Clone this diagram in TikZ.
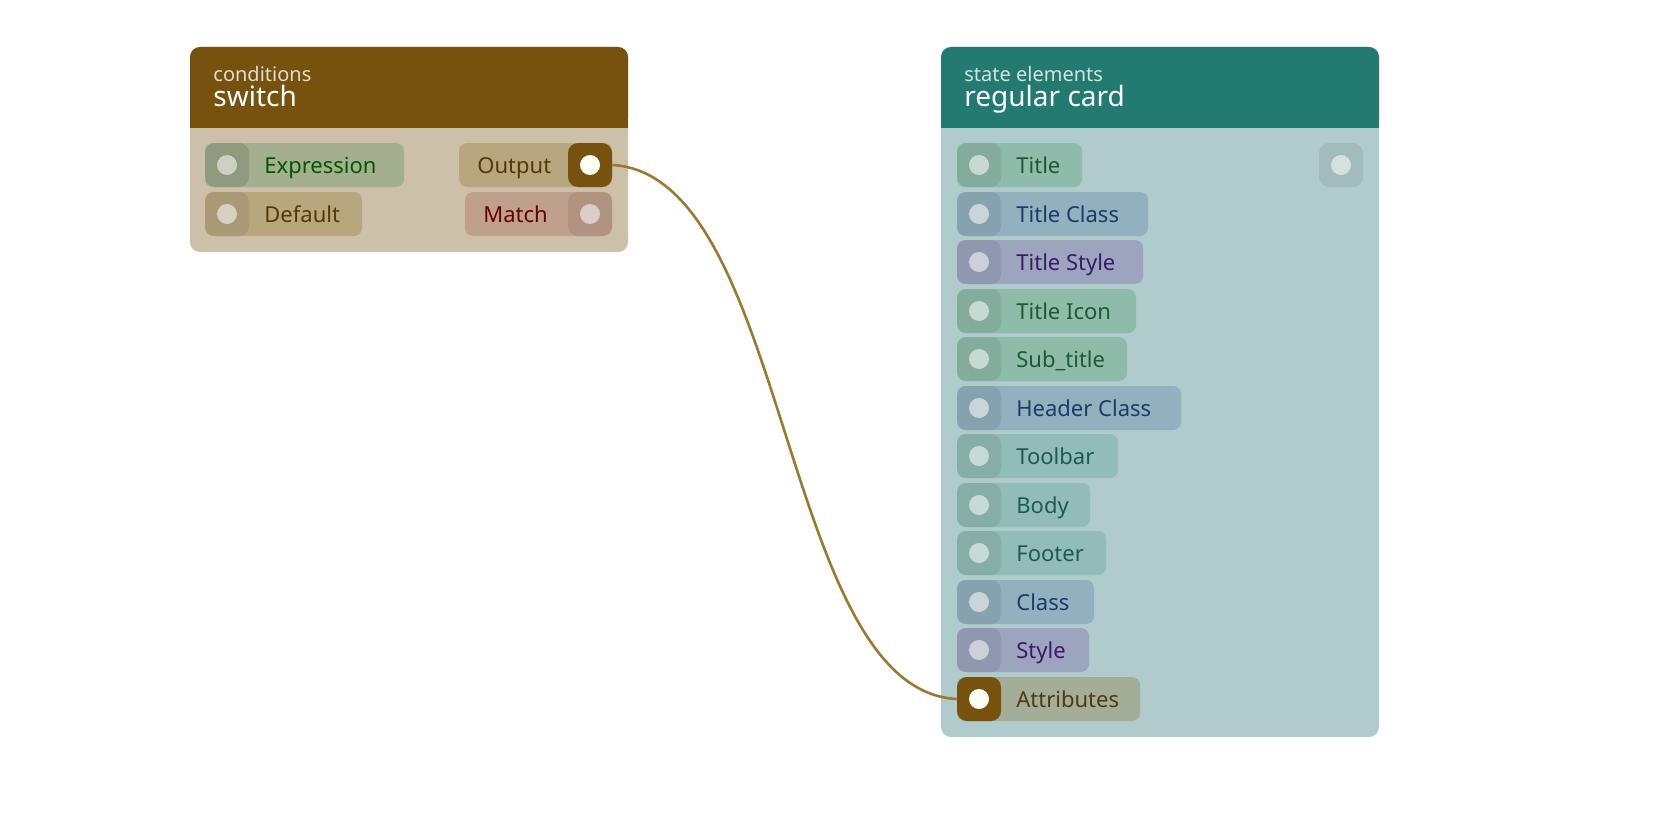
\documentclass[tikz,border=0pt]{standalone}
\usepackage{fontspec}
\setmainfont{Noto Sans}
\usetikzlibrary{positioning}
\definecolor{brownhd}{HTML}{76520E}
\definecolor{brownbd}{HTML}{CCC0A8}
\definecolor{tealhd}{HTML}{227A70}
\definecolor{tealbd}{HTML}{B0CBCB}
\definecolor{wire}{HTML}{9A7A30}
\tikzset{
    card/.style={rounded corners=5pt},
    pill/.style={
    rounded corners=4pt
    },
    knob/.style={
    rectangle,rounded corners=5pt,minimum width=22pt,minimum height=22pt,inner sep=0pt
    },
    dot/.style={
    circle,fill=white,fill opacity=0.55,minimum size=10pt,inner sep=0pt
    },
    hot/.style={
    circle,fill=white!95!yellow,minimum size=10pt,inner sep=0pt
    },
    lbl/.style={font=\fontsize{11}{12}\selectfont,anchor=base west,inner sep=0pt,yshift=-4pt},
    head/.style={anchor=base west,inner sep=0pt},
}
\begin{document}
\begin{tikzpicture}[x=0.5pt,y=-0.5pt]
  \useasboundingbox (0,0) rectangle (1680,840);
  % switch card
  \fill[brownbd,card] (190,47) rectangle (628,252);
  \fill[brownhd,card] (190,47) rectangle (628,128);
  \fill[brownhd] (190,110) rectangle (628,128);
  \node[head,text=white!80!brownhd,font=\fontsize{10}{10}\selectfont] (swcat) at (213,82) {conditions};
  \node[head,text=white,font=\fontsize{14}{14}\selectfont] (swname) at (213,106) {switch};
  % regular card
  \fill[tealbd,card] (941,47) rectangle (1379,737);
  \fill[tealhd,card] (941,47) rectangle (1379,128);
  \fill[tealhd] (941,110) rectangle (1379,128);
  \node[head,text=white!80!tealhd,font=\fontsize{10}{10}\selectfont] (rccat) at (964,82) {state elements};
  \node[head,text=white,font=\fontsize{14}{14}\selectfont] (rcname) at (964,106) {regular card};
  % left inputs
  \definecolor{pc}{HTML}{A3AF8F}
  \fill[pc,pill] (205,143) rectangle (404,187);
  \node[knob,fill=pc!88!black] (kexp) at (227,165) {};
  \node[dot] (iexp) at (227,165) {};
  \node[lbl,text=green!35!black] (texp) at (264,165) {Expression};
  \definecolor{pc}{HTML}{B8A67E}
  \fill[pc,pill] (205,192) rectangle (362,236);
  \node[knob,fill=pc!92!black] (kdef) at (227,214) {};
  \node[dot] (idef) at (227,214) {};
  \node[lbl,text=brownhd!70!black] (tdef) at (264,214) {Default};
  % left outputs
  \fill[pc,pill] (459,143) rectangle (612,187);
  \node[knob,fill=brownhd] (kout) at (590,165) {};
  \node[hot] (iout) at (590,165) {};
  \node[lbl,text=brownhd!70!black] (tout) at (477,165) {Output};
  \definecolor{pc}{HTML}{BFA08C}
  \fill[pc,pill] (465,192) rectangle (612,236);
  \node[knob,fill=pc!92!black] (kmat) at (590,214) {};
  \node[dot] (imat) at (590,214) {};
  \node[lbl,text=red!40!black] (tmat) at (483,214) {Match};
  % right inputs
  \foreach \y/\w/\t/\c/\f in {165/1082/Title/8FBBAA/1E5A30, 214/1148/Title Class/93B0BE/1E3A6A,
      262/1143/Title Style/9DA5BE/3A1A6A, 311/1136/Title Icon/8FBBAA/1E5A30,
      359/1127/Sub\_title/8FBBAA/1E5A30, 408/1181/Header Class/93B0BE/1E3A6A,
      456/1118/Toolbar/92BDB6/1E5A50, 505/1090/Body/92BDB6/1E5A50,
      553/1106/Footer/92BDB6/1E5A50, 602/1094/Class/93B0BE/1E3A6A,
      650/1089/Style/9DA5BE/3A1A6A} {
    \definecolor{pc}{HTML}{\c}\definecolor{tc}{HTML}{\f}
    \fill[pc,pill] (957,\y-22) rectangle (\w,\y+22);
    \node[knob,fill=pc!92!black] (k\y) at (979,\y) {};
    \node[dot] (i\y) at (979,\y) {};
    \node[lbl,text=tc] (t\y) at (1016,\y) {\t};
  }
  \definecolor{pc}{HTML}{A3AE98}
  \fill[pc,pill] (957,677) rectangle (1140,721);
  \node[knob,fill=brownhd] (katt) at (979,699) {};
  \node[hot] (iatt) at (979,699) {};
  \node[lbl,text=brownhd!70!black] (tatt) at (1016,699) {Attributes};
  % right output
  \node[knob,fill=tealbd!92!black] (krc) at (1341,165) {};
  \node[dot] (irc) at (1341,165) {};
  % wire
  \draw[wire,line width=1.3pt] (kout.east) .. controls (790,175) and (780,690) .. (katt.west);
\end{tikzpicture}
\end{document}
